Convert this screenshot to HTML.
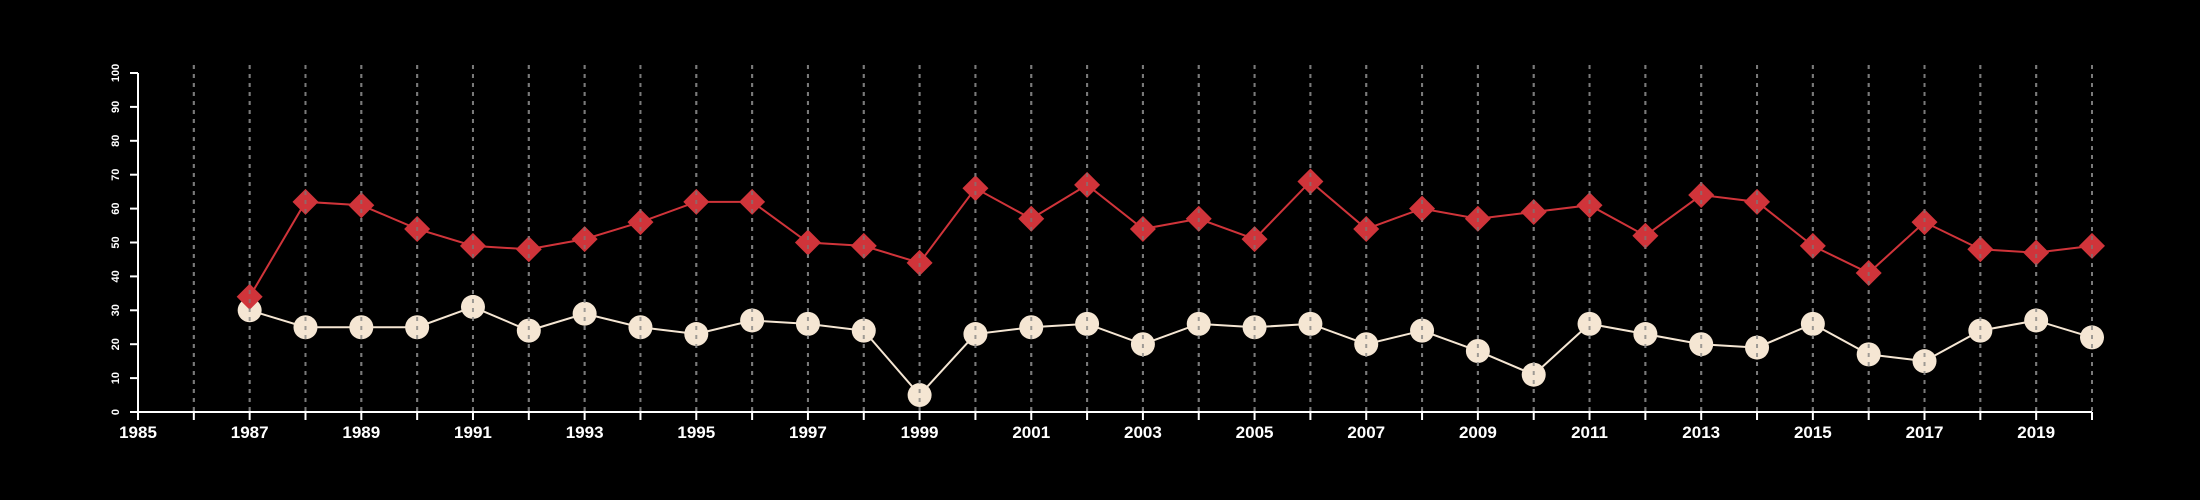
<!DOCTYPE html>
<html><head><meta charset="utf-8"><style>
html,body{margin:0;padding:0;background:#000;}
svg{display:block;font-family:"Liberation Sans",sans-serif;}
</style></head><body>
<svg id="chart" width="2200" height="500" xmlns="http://www.w3.org/2000/svg">
<rect width="2200" height="500" fill="#000"/>
<g id="grid"></g>
<g id="axes"></g>
<g id="series"></g>
<g id="overgrid"></g>
</svg>
<script>
const years = [1987,1988,1989,1990,1991,1992,1993,1994,1995,1996,1997,1998,1999,2000,2001,2002,2003,2004,2005,2006,2007,2008,2009,2010,2011,2012,2013,2014,2015,2016,2017,2018,2019,2020];
const redValues = [34,62,61,54,49,48,51,56,62,62,50,49,44,66,57,67,54,57,51,68,54,60,57,59,61,52,64,62,49,41,56,48,47,49];
const creamValues = [30,25,25,25,31,24,29,25,23,27,26,24,5,23,25,26,20,26,25,26,20,24,18,11,26,23,20,19,26,17,15,24,27,22];
const yTicks = [0,10,20,30,40,50,60,70,80,90,100];
const xTickLabels = [1985,1987,1989,1991,1993,1995,1997,1999,2001,2003,2005,2007,2009,2011,2013,2015,2017,2019];
const xMin=1985,xMax=2020,yMin=0,yMax=100;

const NS="http://www.w3.org/2000/svg";
const X0=138,X1=2092,Y0=412,Y1=73;
const xs=v=>X0+(v-xMin)/(xMax-xMin)*(X1-X0);
const ys=v=>Y0-(v-yMin)/(yMax-yMin)*(Y0-Y1);
function mk(tag,attrs,parent){const e=document.createElementNS(NS,tag);for(const k in attrs)e.setAttribute(k,attrs[k]);parent.appendChild(e);return e;}
const grid=document.getElementById('grid'),axes=document.getElementById('axes'),series=document.getElementById('series'),over=document.getElementById('overgrid');

for(let yr=xMin+1;yr<=xMax;yr++){
  for(const g of [grid,over]){
    const l=mk('line',{x1:xs(yr),x2:xs(yr),y1:Y1-8,y2:Y0,stroke:'#7a7a7a','stroke-width':2,'stroke-dasharray':'4,5'},g);
    
    
  }
}
let ax=mk('line',{x1:X0,x2:X1,y1:Y0,y2:Y0,stroke:'#fff','stroke-width':2},axes);


let ay=mk('line',{x1:X0,x2:X0,y1:Y0,y2:Y1,stroke:'#fff','stroke-width':2},axes);


for(let yr=xMin;yr<=xMax;yr++){
  const t=mk('line',{x1:xs(yr),x2:xs(yr),y1:Y0,y2:Y0+8,stroke:'#fff','stroke-width':2},axes);
  
  
}
for(const v of xTickLabels){
  const t=mk('text',{x:xs(v),y:Y0+26,fill:'#fff','font-size':17,'font-weight':'bold','text-anchor':'middle'},axes);
  t.textContent=v;
  
  
}
for(const v of yTicks){
  const t=mk('line',{x1:X0-8,x2:X0,y1:ys(v),y2:ys(v),stroke:'#fff','stroke-width':2},axes);
  
  
  const tx=mk('text',{x:0,y:0,fill:'#fff','font-size':11,'font-weight':'bold','text-anchor':'middle',transform:`translate(119,${ys(v)}) rotate(-90)`},axes);
  tx.textContent=v;
  
  
}
function line(vals,color,name){
  const p=mk('polyline',{points:vals.map((v,i)=>xs(years[i])+','+ys(v)).join(' '),fill:'none',stroke:color,'stroke-width':2},series);
  
  
}
line(creamValues,'#f5e6d3','cream-series-line');
line(redValues,'#d0343a','red-series-line');
creamValues.forEach((v,i)=>{
  const c=mk('circle',{cx:xs(years[i]),cy:ys(v),r:12,fill:'#f5e6d3'},series);
  
  
});
redValues.forEach((v,i)=>{
  const x=xs(years[i]),y=ys(v),s=13;
  const d=mk('polygon',{points:`${x},${y-s} ${x+s},${y} ${x},${y+s} ${x-s},${y}`,fill:'#d0343a'},series);
  
  
});
over.setAttribute('opacity','0.7');
</script>
</body></html>
